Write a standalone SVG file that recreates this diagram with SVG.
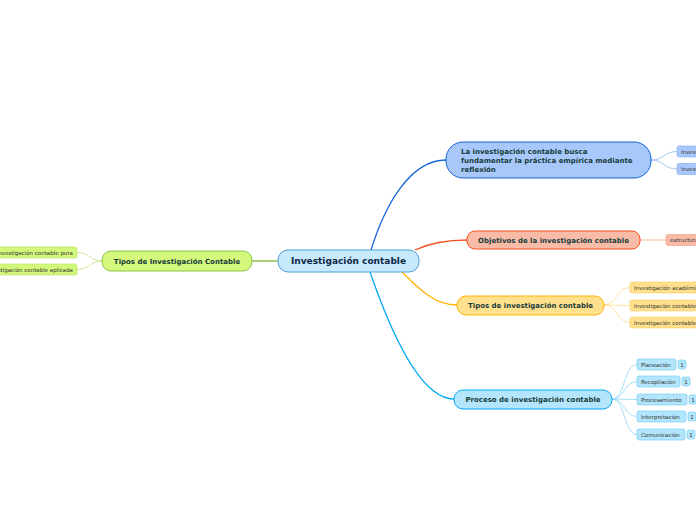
<svg xmlns="http://www.w3.org/2000/svg" width="696" height="520" viewBox="0 0 696 520">
<style>
text{font-family:"DejaVu Sans","Verdana",sans-serif;}
.main{font-size:7px;font-weight:bold;fill:#173b3a;}
.ctr{font-size:9px;font-weight:bold;fill:#0f2747;}
.sm{font-size:5.5px;fill:#333;}
.c{fill:none;stroke-width:1.3;}
.cc{fill:none;stroke-width:0.8;}
</style>
<rect width="696" height="520" fill="#ffffff"/>
<g id="connectors">
<path class="c" d="M371,250 C385,205 410,160 446,160" stroke="#1565d8"/>
<path class="c" d="M415,250 C430,243 445,240 467,240" stroke="#f4511e"/>
<path class="c" d="M402,272 C420,290 435,305 457,305" stroke="#ffb300"/>
<path class="c" d="M370,272 C390,330 420,399 454,399" stroke="#03a9f4"/>
<path class="c" d="M252,261 L278,261" stroke="#7cb82f"/>
<path class="cc" d="M651,160 C664,160 664,151.5 677,151.5" stroke="#8fb5f0"/>
<path class="cc" d="M651,160 C664,160 664,169 677,169" stroke="#8fb5f0"/>
<path class="cc" d="M640,240 L666,240" stroke="#f5a58c"/>
<path class="cc" d="M604,305 C617,305 617,287.5 630,287.5" stroke="#ffd98a"/>
<path class="cc" d="M604,305 L630,305.5" stroke="#ffd98a"/>
<path class="cc" d="M604,305 C617,305 617,322.5 630,322.5" stroke="#ffd98a"/>
<path class="cc" d="M612,399 C625,399 624,364.5 637,364.5" stroke="#8fd6f7"/>
<path class="cc" d="M612,399 C625,399 624,381.5 637,381.5" stroke="#8fd6f7"/>
<path class="cc" d="M612,399 L637,399.5" stroke="#8fd6f7"/>
<path class="cc" d="M612,399 C625,399 624,416.5 637,416.5" stroke="#8fd6f7"/>
<path class="cc" d="M612,399 C625,399 624,434.5 637,434.5" stroke="#8fd6f7"/>
<path class="cc" d="M102,261 C90,261 90,252.5 77,252.5" stroke="#c5e27f"/>
<path class="cc" d="M102,261 C90,261 90,269.5 77,269.5" stroke="#c5e27f"/>
</g>
<g id="central">
<rect x="278" y="250" width="141" height="22" rx="10" fill="#c6e9fb" stroke="#4a9fdc" stroke-width="1"/>
<text class="ctr" x="348.5" y="264.2" text-anchor="middle">Investigación contable</text>
</g>
<g id="n-fundamentar">
<rect x="446" y="142" width="205" height="36" rx="17" fill="#a8c8fc" stroke="#1565d8" stroke-width="1"/>
<text class="main" x="461" y="153.5">La investigación contable busca</text>
<text class="main" x="461" y="162.5">fundamentar la práctica empírica mediante</text>
<text class="main" x="461" y="171.5">reflexión</text>
</g>
<g id="n-fund-c1">
<rect x="677" y="146" width="40" height="11" rx="2" fill="#a8c8fc" stroke="#7fa9ec" stroke-width="0.6"/>
<text class="sm" x="681" y="153.5">Investigación</text>
</g>
<g id="n-fund-c2">
<rect x="677" y="163.5" width="40" height="11" rx="2" fill="#a8c8fc" stroke="#7fa9ec" stroke-width="0.6"/>
<text class="sm" x="681" y="171">Investigación</text>
</g>
<g id="n-objetivos">
<rect x="467" y="231" width="173" height="18" rx="8" fill="#f8bba8" stroke="#f4511e" stroke-width="1"/>
<text class="main" x="553.5" y="242.5" text-anchor="middle">Objetivos de la investigación contable</text>
</g>
<g id="n-obj-c1">
<rect x="666" y="234.5" width="40" height="11" rx="2" fill="#f8bba8" stroke="#f09a7f" stroke-width="0.6"/>
<text class="sm" x="670" y="242">estructura</text>
</g>
<g id="n-tipos">
<rect x="457" y="296" width="147" height="19" rx="9" fill="#ffe08c" stroke="#ffb300" stroke-width="1"/>
<text class="main" x="530.5" y="308" text-anchor="middle">Tipos de investigación contable</text>
</g>
<g id="n-tipos-c1">
<rect x="630" y="282" width="80" height="11" rx="2" fill="#ffe08c" stroke="#f8cc66" stroke-width="0.6"/>
<text class="sm" x="634" y="289.5">Investigación académica</text>
</g>
<g id="n-tipos-c2">
<rect x="630" y="300" width="80" height="11" rx="2" fill="#ffe08c" stroke="#f8cc66" stroke-width="0.6"/>
<text class="sm" x="634" y="307.5">Investigación contable pura</text>
</g>
<g id="n-tipos-c3">
<rect x="630" y="317" width="80" height="11" rx="2" fill="#ffe08c" stroke="#f8cc66" stroke-width="0.6"/>
<text class="sm" x="634" y="324.5">Investigación contable aplicada</text>
</g>
<g id="n-proceso">
<rect x="454" y="390" width="158" height="19" rx="9" fill="#b3e5fc" stroke="#03a9f4" stroke-width="1"/>
<text class="main" x="533" y="402" text-anchor="middle">Proceso de investigación contable</text>
</g>
<g id="n-planeacion">
<rect x="637" y="359" width="39" height="11" rx="2" fill="#b3e5fc" stroke="#6ccaf5" stroke-width="0.6"/>
<text class="sm" x="641" y="366.5">Planeación</text>
<rect x="678" y="360" width="8" height="9" rx="2" fill="#b3e5fc" stroke="#6ccaf5" stroke-width="0.6"/>
<text class="sm" x="682" y="366.5" text-anchor="middle">1</text>
</g>
<g id="n-recopilacion">
<rect x="637" y="376" width="43" height="11" rx="2" fill="#b3e5fc" stroke="#6ccaf5" stroke-width="0.6"/>
<text class="sm" x="641" y="383.5">Recopilación</text>
<rect x="682" y="377" width="8" height="9" rx="2" fill="#b3e5fc" stroke="#6ccaf5" stroke-width="0.6"/>
<text class="sm" x="686" y="383.5" text-anchor="middle">1</text>
</g>
<g id="n-procesamiento">
<rect x="637" y="394" width="50" height="11" rx="2" fill="#b3e5fc" stroke="#6ccaf5" stroke-width="0.6"/>
<text class="sm" x="641" y="401.5">Procesamiento</text>
<rect x="689" y="395" width="8" height="9" rx="2" fill="#b3e5fc" stroke="#6ccaf5" stroke-width="0.6"/>
<text class="sm" x="693" y="401.5" text-anchor="middle">1</text>
</g>
<g id="n-interpretacion">
<rect x="637" y="411" width="49" height="11" rx="2" fill="#b3e5fc" stroke="#6ccaf5" stroke-width="0.6"/>
<text class="sm" x="641" y="418.5">Interpretación</text>
<rect x="688" y="412" width="8" height="9" rx="2" fill="#b3e5fc" stroke="#6ccaf5" stroke-width="0.6"/>
<text class="sm" x="692" y="418.5" text-anchor="middle">1</text>
</g>
<g id="n-comunicacion">
<rect x="637" y="429" width="48" height="11" rx="2" fill="#b3e5fc" stroke="#6ccaf5" stroke-width="0.6"/>
<text class="sm" x="641" y="436.5">Comunicación</text>
<rect x="687" y="430" width="8" height="9" rx="2" fill="#b3e5fc" stroke="#6ccaf5" stroke-width="0.6"/>
<text class="sm" x="691" y="436.5" text-anchor="middle">1</text>
</g>
<g id="n-tipos-left">
<rect x="102" y="251" width="150" height="20" rx="9" fill="#d4f87c" stroke="#8bc34a" stroke-width="1"/>
<text class="main" x="177" y="263.5" text-anchor="middle">Tipos de Investigación Contable</text>
</g>
<g id="n-left-c1">
<rect x="-20" y="247" width="97" height="11" rx="2" fill="#d4f87c" stroke="#b5dc5a" stroke-width="0.6"/>
<text class="sm" x="73" y="254.5" text-anchor="end">Investigación contable pura</text>
</g>
<g id="n-left-c2">
<rect x="-20" y="264" width="97" height="11" rx="2" fill="#d4f87c" stroke="#b5dc5a" stroke-width="0.6"/>
<text class="sm" x="73" y="271.5" text-anchor="end">Investigación contable aplicada</text>
</g>
</svg>
